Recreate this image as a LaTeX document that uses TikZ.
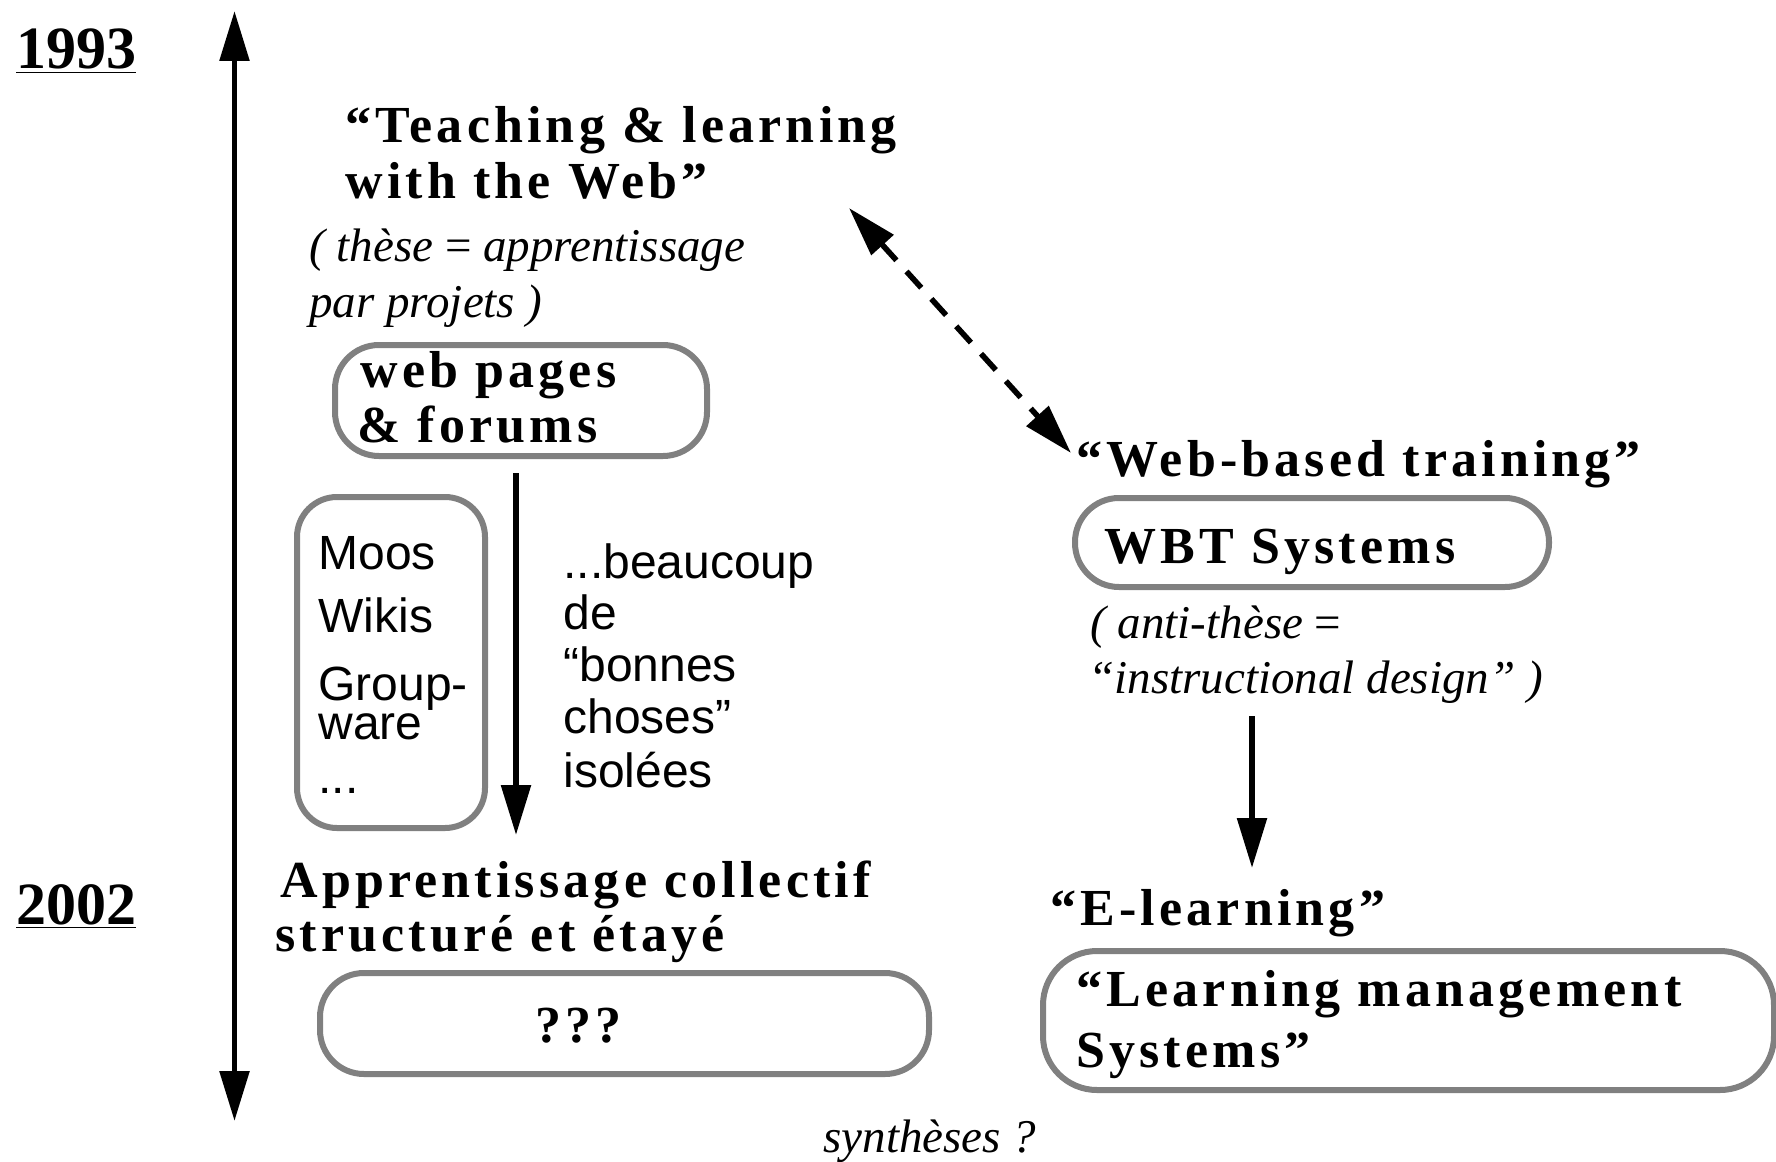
\documentclass[tikz,border=0pt]{standalone}
\usepackage{fontspec}
\setmainfont{Liberation Serif}
\setsansfont{Liberation Sans}
\newfontfamily\ttlfont[LetterSpace=8]{Liberation Serif}
\usetikzlibrary{arrows.meta}
\definecolor{boxgray}{gray}{0.5}
\tikzset{
  box/.style={draw=boxgray, line width=3pt, rounded corners=22pt, inner sep=0pt},
  arr/.style={line width=2.8pt, -{Triangle[length=25pt,width=14.5pt]}},
  dblarr/.style={line width=2.8pt, {Triangle[length=25pt,width=14.5pt]}-{Triangle[length=25pt,width=14.5pt]}},
  ttl/.style={anchor=base west, inner sep=0pt, font=\ttlfont\fontsize{26}{28}\selectfont\bfseries},
  itl/.style={anchor=base west, inner sep=0pt, font=\fontsize{23.5}{26}\selectfont\itshape},
  sns/.style={anchor=base west, inner sep=0pt, font=\fontsize{24}{26}\selectfont\sffamily},
  yr/.style={anchor=base west, inner sep=0pt, font=\fontsize{30}{32}\selectfont\bfseries},
}
\begin{document}
\begin{tikzpicture}[x=0.5pt,y=-0.5pt]
\useasboundingbox (0,0) rectangle (1776,1161);
\fill[white] (0,0) rectangle (1776,1161);

% years and timeline
\node[yr] (y1993) at (16,69) {\underline{1993}};
\node[yr] (y2002) at (16,924) {\underline{2002}};
\coordinate (tlT) at (234.5,11);
\coordinate (tlB) at (234.5,1121);
\draw[dblarr] (tlT) -- (tlB);

% left column
\node[ttl] (tw1) at (345,142) {“Teaching \& learning};
\node[ttl] (tw2) at (345,198) {with the Web”};
\node[itl] (th1) at (309,261) {( thèse {\upshape =} apprentissage};
\node[itl] (th2) at (309,317) {par projets )};

\node[box, minimum width=186pt, minimum height=55.5pt] (web) at (521,400.5) {};
\node[ttl] (web1) at (360,387) {web pages};
\node[ttl] (web2) at (357,442) {\& forums};

\node[box, rounded corners=20pt, minimum width=94pt, minimum height=165.5pt] (moos) at (391,662.5) {};
\node[sns] (m1) at (318,569) {Moos};
\node[sns] (m2) at (318,632) {Wikis};
\node[sns, align=left, font=\fontsize{24}{19.5}\selectfont\sffamily] (m3) at (318,739) {Group-\\ware};
\node[sns] (m5) at (318,793) {...};

\coordinate (a1s) at (516,473);
\coordinate (a1e) at (516,835);
\draw[arr] (a1s) -- (a1e);

\node[sns] (b1) at (563,578) {...beaucoup};
\node[sns] (b2) at (563,629) {de};
\node[sns] (b3) at (563,681) {“bonnes};
\node[sns] (b4) at (563,733) {choses”};
\node[sns] (b5) at (563,787) {isolées};

\node[ttl] (ap1) at (280,897) {Apprentissage collectif};
\node[ttl] (ap2) at (275,951) {structuré et étayé};
\node[box, minimum width=304.5pt, minimum height=50.5pt] (qqq) at (624.5,1023.5) {};
\node[ttl] (qqqt) at (535,1042) {???};

% right column
\coordinate (dA) at (849,208);
\coordinate (dB) at (1071,453);
\draw[dblarr, dash pattern=on 11pt off 7.5pt] (dA) -- (dB);

\node[ttl] (wb) at (1076,476) {“Web-based training”};
\node[box, minimum width=237pt, minimum height=44.5pt] (wbt) at (1312,542.5) {};
\node[ttl] (wbtt) at (1104,563) {WBT Systems};
\node[itl] (an1) at (1090,638) {( anti-thèse {\upshape =}};
\node[itl] (an2) at (1088,693) {“instructional design” )};

\coordinate (a2s) at (1252,716);
\coordinate (a2e) at (1252,868);
\draw[arr] (a2s) -- (a2e);

\node[ttl] (el) at (1050,925) {“E-learning”};
\node[box, rounded corners=27pt, minimum width=365.5pt, minimum height=69.5pt] (lms) at (1408.5,1020.5) {};
\node[ttl] (lms1) at (1076,1006) {“Learning management};
\node[ttl] (lms2) at (1076,1067) {Systems”};

\node[itl] (syn) at (823,1152) {synthèses ?};
\end{tikzpicture}
\end{document}
